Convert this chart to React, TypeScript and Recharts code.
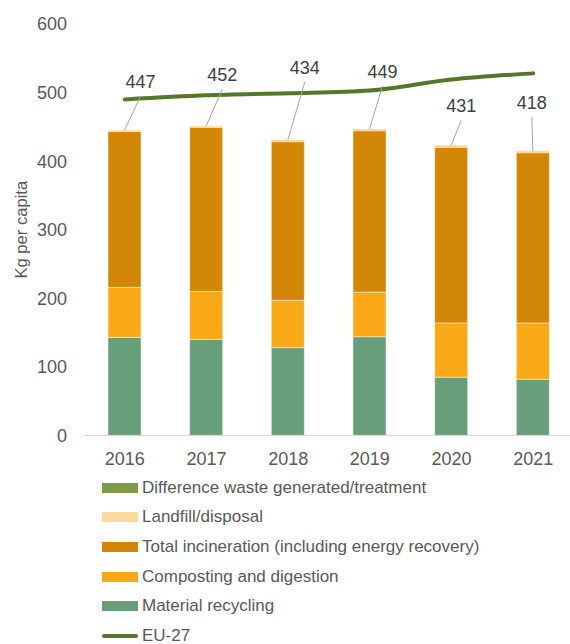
import React from 'react';
import { ComposedChart, Bar, Line, XAxis, YAxis, Legend, LabelList } from 'recharts';

const years = ['2016', '2017', '2018', '2019', '2020', '2021'];
const materialRecycling = [143, 140, 128, 144, 85, 82];
const composting = [73, 70, 69, 65, 79, 82];
const incineration = [227, 239, 231, 235, 256, 248];
const landfill = [2, 2, 3, 3, 3, 3];
const difference = [0, 0, 0, 0, 0, 0];
const totals = [447, 452, 434, 449, 431, 418];
const eu27 = [490, 496, 499, 503, 519, 528];
const yTicks = [0, 100, 200, 300, 400, 500, 600];

const data = years.map((year, i) => ({
  year,
  recycling: materialRecycling[i],
  composting: composting[i],
  incineration: incineration[i],
  landfill: landfill[i],
  difference: difference[i],
  total: totals[i],
  eu27: eu27[i],
}));

const legendItems = [
  { name: 'Difference waste generated/treatment', color: '#7f9b48', line: false },
  { name: 'Landfill/disposal', color: '#fdd9a0', line: false },
  { name: 'Total incineration (including energy recovery)', color: '#d28806', line: false },
  { name: 'Composting and digestion', color: '#f9a818', line: false },
  { name: 'Material recycling', color: '#689e7a', line: false },
  { name: 'EU-27', color: '#56762c', line: true },
];

// label placement relative to bar top (as dragged in the original)
const labelOffsets = [
  [16, -48],
  [16, -51],
  [17, -72],
  [13, -57],
  [10, -39],
  [-1, -48],
];

const TotalLabel = (props: any) => {
  const { x, y, width, value, index } = props;
  const cx = x + width / 2;
  const [dx, dy] = labelOffsets[index];
  const lx = cx + dx;
  const ly = y + dy;
  return (
    <g>
      <line x1={cx} y1={y} x2={lx} y2={ly + 14} stroke="#a6a6a6" strokeWidth={1} />
      <text x={lx} y={ly} textAnchor="middle" dominantBaseline="central" fontSize={18} fill="#404040">
        {value}
      </text>
    </g>
  );
};

const LegendContent = () => (
  <div style={{ width: 570 }}>
    {legendItems.map((item) => (
      <div key={item.name} style={{ height: 29.6, display: 'flex', alignItems: 'center' }}>
        <div
          style={{
            marginLeft: 102,
            width: 36,
            height: item.line ? 4 : 10,
            borderRadius: item.line ? 2 : 0,
            background: item.color,
          }}
        />
        <span style={{ marginLeft: 4, fontSize: 17, color: '#595959' }}>{item.name}</span>
      </div>
    ))}
  </div>
);

const barStroke = 'rgba(255,255,255,0.45)';

export default function App() {
  return (
    <div
      style={{
        position: 'absolute',
        left: 0,
        top: 0,
        width: 570,
        height: 644,
        overflow: 'hidden',
        background: '#fff',
        fontFamily: "'Liberation Sans', Arial, sans-serif",
      }}
    >
      <ComposedChart
        width={570}
        height={644}
        data={data}
        margin={{ top: 24, right: -4, left: 0, bottom: 1 }}
      >
        <XAxis
          dataKey="year"
          height={30}
          tickSize={0}
          tickMargin={17}
          stroke="#d9d9d9"
          tick={{ fontSize: 18, fill: '#595959' }}
        />
        <YAxis
          width={84}
          domain={[0, 600]}
          ticks={yTicks}
          axisLine={false}
          tickLine={false}
          tickSize={0}
          tickMargin={17}
          tick={{ fontSize: 18, fill: '#595959' }}
          label={{
            value: 'Kg per capita',
            angle: -90,
            position: 'insideLeft',
            offset: 21,
            style: { textAnchor: 'middle', fontSize: 16.6, fill: '#595959' },
          }}
        />
        <Legend
          layout="vertical"
          verticalAlign="bottom"
          align="center"
          wrapperStyle={{ top: 473, left: 0 }}
          content={<LegendContent />}
        />
        <Bar dataKey="recycling" stackId="a" barSize={33} fill="#689e7a" stroke={barStroke} isAnimationActive={false} />
        <Bar dataKey="composting" stackId="a" barSize={33} fill="#f9a818" stroke={barStroke} isAnimationActive={false} />
        <Bar dataKey="incineration" stackId="a" barSize={33} fill="#d28806" stroke={barStroke} isAnimationActive={false} />
        <Bar dataKey="landfill" stackId="a" barSize={33} fill="#fdd9a0" isAnimationActive={false}>
          <LabelList dataKey="total" content={<TotalLabel />} />
        </Bar>
        <Bar dataKey="difference" stackId="a" barSize={33} fill="#7f9b48" isAnimationActive={false} />
        <Line
          type="monotone"
          dataKey="eu27"
          stroke="#56762c"
          strokeWidth={4}
          strokeLinecap="round"
          dot={false}
          activeDot={false}
          isAnimationActive={false}
        />
      </ComposedChart>
    </div>
  );
}
